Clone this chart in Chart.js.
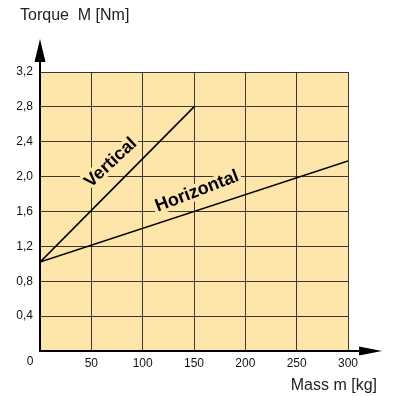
<!DOCTYPE html>
<html>
<head>
<meta charset="utf-8">
<script src="https://cdn.jsdelivr.net/npm/chart.js@4.4.1/dist/chart.umd.min.js"></script>
<style>
  html, body { margin: 0; padding: 0; background: #fff; }
  #box { width: 393px; height: 396px; position: relative; }
</style>
</head>
<body>
<div id="box"><canvas id="torqueChart"></canvas></div>
<script>
// values
const verticalMass = [0, 150];
const verticalTorque = [1.02, 2.8];
const horizontalMass = [0, 300];
const horizontalTorque = [1.02, 2.18];

const massTicks = [0, 50, 100, 150, 200, 250, 300];
const torqueTicks = [0, 0.4, 0.8, 1.2, 1.6, 2.0, 2.4, 2.8, 3.2];

// line labels: text, anchor (mass, torque), rotation in degrees
const lineLabels = ['Vertical', 'Horizontal'];
const labelMass = [69, 153];
const labelTorque = [2.16, 1.83];
const labelAngle = [-43, -21];

const fillColor = 'rgb(254, 230, 171)';
const fontFamily = '"Liberation Sans", Arial, Helvetica, sans-serif';

function toPoints(xs, ys) {
    return xs.map(function (x, i) { return { x: x, y: ys[i] }; });
}

const decoPlugin = {
    id: 'deco',
    beforeDraw(chart) {
        const ctx = chart.ctx;
        const a = chart.chartArea;
        ctx.save();
        ctx.fillStyle = fillColor;
        ctx.fillRect(a.left, a.top, a.right - a.left, a.bottom - a.top);
        ctx.restore();
    },
    beforeDatasetsDraw(chart) {
        const ctx = chart.ctx;
        const xs = chart.scales.x, ys = chart.scales.y;
        ctx.save();
        ctx.font = 'bold 18px ' + fontFamily;
        ctx.textAlign = 'center';
        ctx.textBaseline = 'middle';
        for (let i = 0; i < lineLabels.length; i++) {
            ctx.save();
            ctx.translate(xs.getPixelForValue(labelMass[i]), ys.getPixelForValue(labelTorque[i]));
            ctx.rotate(labelAngle[i] * Math.PI / 180);
            ctx.lineJoin = 'round';
            ctx.lineWidth = 7;
            ctx.strokeStyle = fillColor;
            ctx.strokeText(lineLabels[i], 0, 0);
            ctx.fillStyle = '#000';
            ctx.fillText(lineLabels[i], 0, 0);
            ctx.restore();
        }
        ctx.restore();
    },
    afterDraw(chart) {
        const ctx = chart.ctx;
        const a = chart.chartArea;
        ctx.save();
        ctx.strokeStyle = '#000';
        ctx.fillStyle = '#000';
        ctx.lineWidth = 2;
        // y axis arrow
        ctx.beginPath();
        ctx.moveTo(a.left, a.top);
        ctx.lineTo(a.left, 60);
        ctx.stroke();
        ctx.beginPath();
        ctx.moveTo(a.left - 5.5, 62);
        ctx.lineTo(a.left, 39);
        ctx.lineTo(a.left + 5.5, 62);
        ctx.closePath();
        ctx.fill();
        // x axis arrow
        ctx.beginPath();
        ctx.moveTo(a.right, a.bottom);
        ctx.lineTo(362, a.bottom);
        ctx.stroke();
        ctx.beginPath();
        ctx.moveTo(359, a.bottom - 4.5);
        ctx.lineTo(382, a.bottom);
        ctx.lineTo(359, a.bottom + 4.5);
        ctx.closePath();
        ctx.fill();

        // axis titles and the corner zero
        ctx.fillStyle = '#222';
        ctx.font = '16px ' + fontFamily;
        ctx.textBaseline = 'alphabetic';
        ctx.textAlign = 'left';
        ctx.fillText('Torque  M [Nm]', 20, 20);
        ctx.textAlign = 'right';
        ctx.fillText('Mass m [kg]', 377, 390);
        ctx.font = '12px ' + fontFamily;
        ctx.textAlign = 'center';
        ctx.textBaseline = 'middle';
        ctx.fillStyle = '#111';
        ctx.fillText('0', 30, 362);
        ctx.restore();
    }
};

const config = {
    type: 'scatter',
    data: {
        datasets: [
            {
                label: 'Vertical',
                data: toPoints(verticalMass, verticalTorque),
                showLine: true,
                borderColor: '#000',
                borderWidth: 1.6,
                pointRadius: 0
            },
            {
                label: 'Horizontal',
                data: toPoints(horizontalMass, horizontalTorque),
                showLine: true,
                borderColor: '#000',
                borderWidth: 1.6,
                pointRadius: 0
            }
        ]
    },
    options: {
        responsive: true,
        maintainAspectRatio: false,
        animation: false,
        events: [],
        layout: { padding: { left: 0, top: 72, right: 45, bottom: 25 } },
        plugins: {
            legend: { display: false },
            tooltip: { enabled: false }
        },
        scales: {
            x: {
                type: 'linear',
                min: 0,
                max: 300,
                afterFit: function (s) { s.height = 20; },
                afterBuildTicks: function (s) { s.ticks = massTicks.map(function (v) { return { value: v }; }); },
                ticks: {
                    padding: 5,
                    color: '#111',
                    font: { family: fontFamily, size: 12 },
                    callback: function (v) { return v === 0 ? '' : String(v); }
                },
                grid: { color: 'rgba(25,25,25,0.85)', lineWidth: 1, drawTicks: false },
                border: { color: '#000', width: 2 }
            },
            y: {
                type: 'linear',
                min: 0,
                max: 3.2,
                afterFit: function (s) { s.width = 40; },
                afterBuildTicks: function (s) { s.ticks = torqueTicks.map(function (v) { return { value: v }; }); },
                ticks: {
                    padding: 7,
                    color: '#111',
                    font: { family: fontFamily, size: 12 },
                    callback: function (v) { return v === 0 ? '' : v.toFixed(1).replace('.', ','); }
                },
                grid: { color: 'rgba(25,25,25,0.85)', lineWidth: 1, drawTicks: false },
                border: { color: '#000', width: 2 }
            }
        }
    },
    plugins: [decoPlugin]
};

new Chart(document.getElementById('torqueChart'), config);
</script>
</body>
</html>
